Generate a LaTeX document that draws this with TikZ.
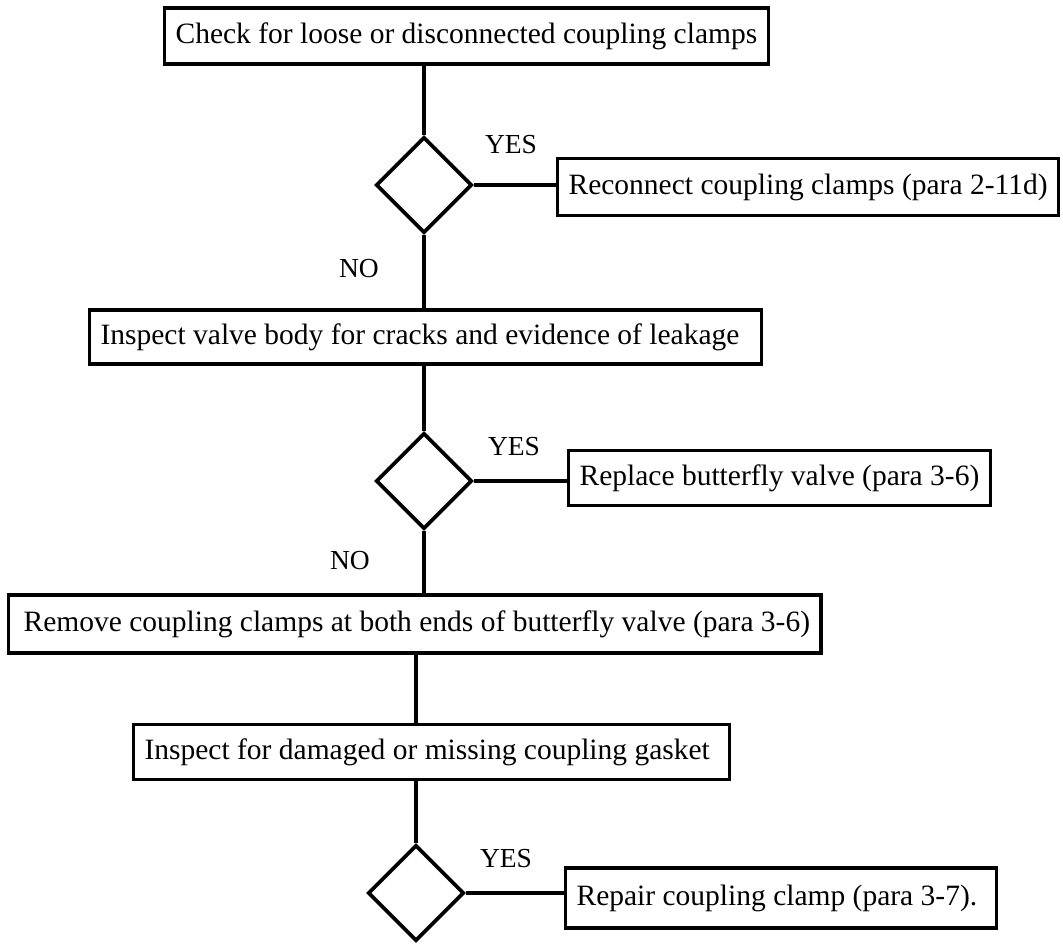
\documentclass[tikz,border=0pt]{standalone}
\usepackage{fontspec}
\setmainfont{Liberation Serif}
\usetikzlibrary{shapes.geometric}
\begin{document}
\begin{tikzpicture}[x=1pt,y=-1pt,
  box/.style={draw, line width=3.2pt, rectangle, anchor=west, inner xsep=11pt, inner ysep=0pt, font=\fontsize{29.5}{32}\selectfont, minimum height=#1},
  box/.default=56pt,
  dec/.style={draw, diamond, line width=3.6pt, minimum width=96pt, minimum height=96pt, inner sep=0pt},
  lbl/.style={font=\fontsize{27.5}{30}\selectfont, inner sep=0pt},
  conn/.style={line width=3.6pt}]
\useasboundingbox (0,0) rectangle (1063,945);

% boxes
\node[box=56pt] (b1) at (163,36) {Check for loose or disconnected coupling clamps};
\node[box=57pt] (b2) at (556,187) {Reconnect coupling clamps (para 2-11d)};
\node[box=54pt] (b3) at (88,337) {Inspect valve body for cracks and evidence of leakage\hspace*{11pt}};
\node[box=55pt] (b3y) at (567,478) {Replace butterfly valve (para 3-6)};
\node[box=58pt] (b4) at (7,624) {\hspace*{4pt}Remove coupling clamps at both ends of butterfly valve (para 3-6)};
\node[box=55pt] (b5) at (132,752) {Inspect for damaged or missing coupling gasket\hspace*{9pt}};
\node[box=60pt] (b5y) at (564,898) {Repair coupling clamp (para 3-7).\hspace*{8pt}};

% decisions
\node[dec] (d1) at (424,185) {};
\node[dec] (d2) at (424,481) {};
\node[dec] (d3) at (416,893) {};

% labels
\node[lbl] (y1) at (511,145) {YES};
\node[lbl] (n1) at (359,269) {NO};
\node[lbl] (y2) at (514,447) {YES};
\node[lbl] (n2) at (350,561) {NO};
\node[lbl] (y3) at (506,859) {YES};

% connectors
\draw[conn] (b1.south -| d1.north) -- (d1.north);
\draw[conn] (d1.east) -- (d1.east -| b2.west);
\draw[conn] (d1.south) -- (d1.south |- b3.north);
\draw[conn] (b3.south -| d2.north) -- (d2.north);
\draw[conn] (d2.east) -- (d2.east -| b3y.west);
\draw[conn] (d2.south) -- (d2.south |- b4.north);
\draw[conn] (b4.south -| d3.north) -- (d3.north |- b5.north);
\draw[conn] (b5.south -| d3.north) -- (d3.north);
\draw[conn] (d3.east) -- (d3.east -| b5y.west);
\end{tikzpicture}
\end{document}
